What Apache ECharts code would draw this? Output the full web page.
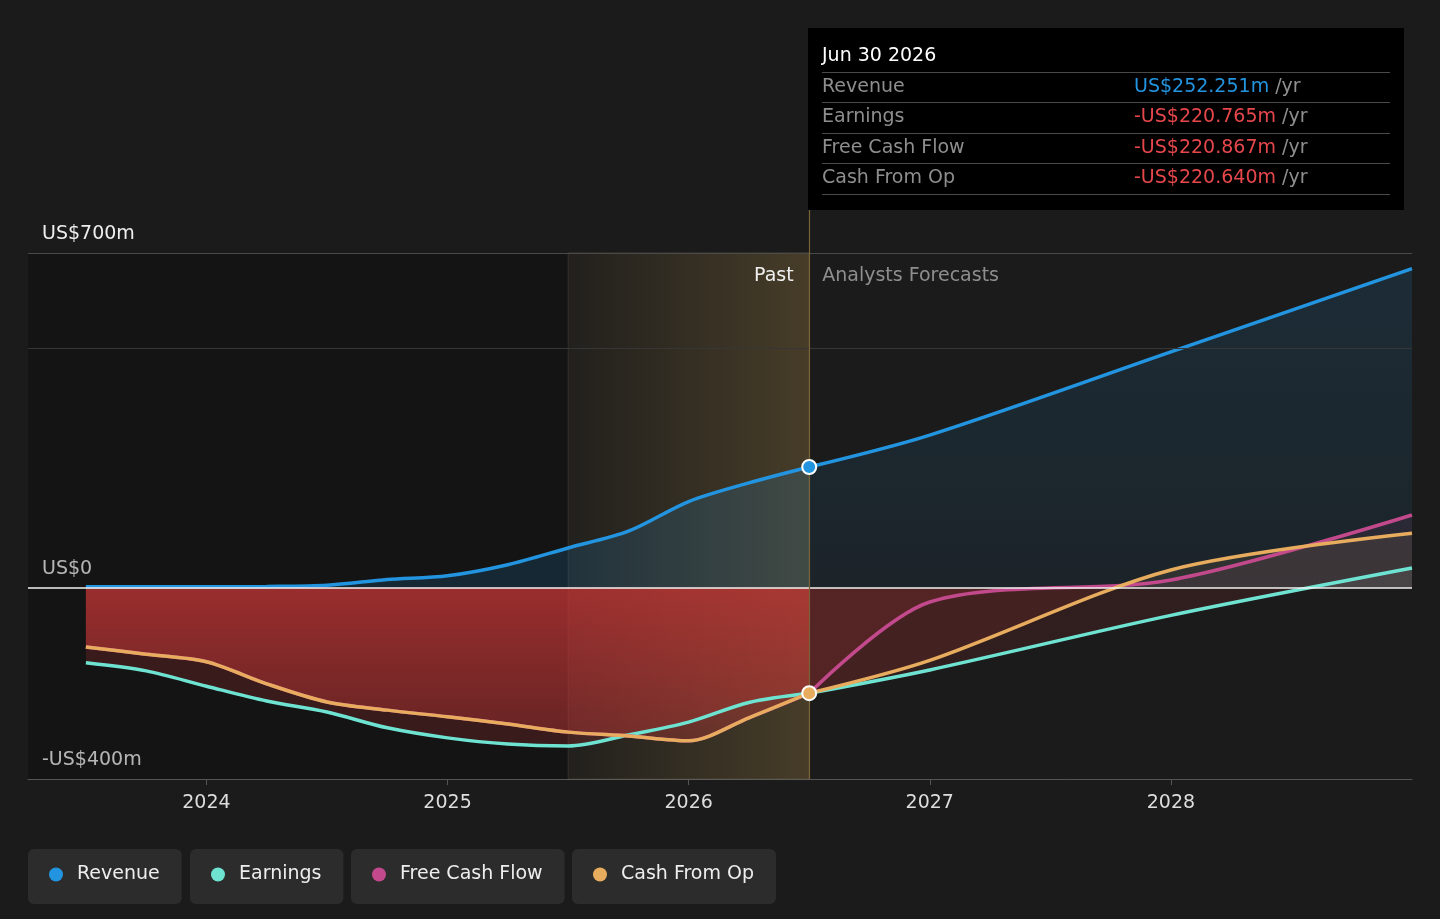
<!DOCTYPE html>
<html>
<head>
<meta charset="utf-8">
<title>Revenue, Earnings and Cash Flow</title>
<script src="https://cdn.jsdelivr.net/npm/echarts@6/dist/echarts.min.js"></script>
<style>
  html, body { margin: 0; padding: 0; background: #1b1b1b; }
  #chart { width: 1440px; height: 919px; }
</style>
</head>
<body>
<div id="chart"></div>
<script>
// values in US$ millions, dates as fractional years
var pastDates = [2023.5, 2023.75, 2024, 2024.25, 2024.5, 2024.75, 2025, 2025.25, 2025.5, 2025.75, 2026, 2026.25, 2026.5];
var forecastDates = [2026.5, 2027, 2028, 2029];

var revenuePast = [2, 2, 2, 2.5, 5, 17, 25, 48, 83, 118, 180, 219, 252.251];
var revenueForecast = [252.251, 319, 493, 667];

var earningsPast = [-157, -174, -206, -237, -260, -293, -314, -327, -331, -308, -281, -240, -220.765];
var earningsForecast = [-220.765, -172, -58, 41];

var fcfPast = [-124, -139, -155, -201, -239, -256, -270, -285, -302, -310, -320, -272, -220.867];
var fcfForecast = [-220.867, -30, 16, 152];

var cfoPast = [-124, -139, -155, -201, -239, -256, -270, -285, -302, -310, -320, -272, -220.64];
var cfoForecast = [-220.64, -152, 37, 114];

var yearTicks = [2024, 2025, 2026, 2027, 2028];
var yTicks = [-400, 0, 700];
var gridValues = [700, 500];

var bandStart = 2025.5;
var bandEnd = 2026.5;
var xMin = 2023.26;
var xMax = 2029;

var tipDate = 'Jun 30 2026';
var tipLabels = ['Revenue', 'Earnings', 'Free Cash Flow', 'Cash From Op'];
var tipValues = ['US$252.251m', '-US$220.765m', '-US$220.867m', '-US$220.640m'];

var COLORS = {
    revenue: '#2394df',
    earnings: '#6fe3d1',
    fcf: '#c2498b',
    cfo: '#e8ac5e'
};
var RED = 'rgba(205,55,55,0.12)';
var FONT = '"DejaVu Sans", Verdana, sans-serif';

var chart = echarts.init(document.getElementById('chart'));

function pairs(dates, vals) {
    return dates.map(function (d, i) { return [d, vals[i]]; });
}

function vGrad(top, bottom) {
    return { type: 'linear', x: 0, y: 0, x2: 0, y2: 1,
        colorStops: [{ offset: 0, color: top }, { offset: 1, color: bottom }] };
}

// fill that switches colour at the zero line (pixel position from the axis)
function splitFill(zeroPx, pos, neg) {
    if (zeroPx == null) return neg;
    var h = chart.getHeight();
    var f = zeroPx / h;
    return { type: 'linear', x: 0, y: 0, x2: 0, y2: h, global: true,
        colorStops: [
            { offset: 0, color: pos }, { offset: f, color: pos },
            { offset: f, color: neg }, { offset: 1, color: neg }
        ] };
}

function line(name, color, dates, vals, fill, z) {
    var s = {
        name: name,
        type: 'line',
        data: pairs(dates, vals),
        smooth: 0.3,
        symbol: 'none',
        silent: true,
        z: z,
        lineStyle: { color: color, width: 3.5 },
        itemStyle: { color: color },
        emphasis: { disabled: true }
    };
    if (fill) s.areaStyle = { color: fill, origin: 'auto', opacity: 1 };
    return s;
}

function buildOption(zeroPx) {
    var series = [
        // background pieces: darker past, grid lines, zero line
        {
            name: 'base', type: 'line', data: [], silent: true, z: 1,
            markArea: {
                silent: true,
                itemStyle: { color: 'rgba(0,0,0,0.24)' },
                data: [[{ xAxis: xMin, yAxis: gridValues[0] }, { xAxis: bandStart, yAxis: yTicks[0] }]]
            },
            markLine: {
                silent: true, symbol: 'none', animation: false,
                label: { show: false },
                data: gridValues.map(function (v, i) {
                    return { yAxis: v, lineStyle: { color: i === 0 ? '#4a4a4a' : '#363636', width: 1, type: 'solid' } };
                }).concat([{ yAxis: 0, lineStyle: { color: '#f2f2f2', width: 1.5, type: 'solid' } }])
            }
        },
        line('Earnings', COLORS.earnings, pastDates, earningsPast, 'rgba(205,55,55,0.2)', 2),
        line('Earnings', COLORS.earnings, forecastDates, earningsForecast,
            splitFill(zeroPx, 'rgba(190,215,205,0.1)', RED), 2),
        line('Free Cash Flow', COLORS.fcf, pastDates, fcfPast,
            vGrad('rgba(205,55,55,0.66)', 'rgba(205,55,55,0.3)'), 2),
        line('Free Cash Flow', COLORS.fcf, forecastDates, fcfForecast,
            splitFill(zeroPx, 'rgba(194,73,139,0.09)', RED), 2),
        line('Cash From Op', COLORS.cfo, pastDates, cfoPast, null, 2),
        line('Cash From Op', COLORS.cfo, forecastDates, cfoForecast,
            splitFill(zeroPx, 'rgba(232,172,94,0.1)', RED), 2),
        line('Revenue', COLORS.revenue, pastDates, revenuePast, 'rgba(35,148,223,0.16)', 2),
        line('Revenue', COLORS.revenue, forecastDates, revenueForecast,
            vGrad('rgba(35,148,223,0.14)', 'rgba(35,148,223,0.07)'), 2),
        // highlighted last-year band, divider and region labels
        {
            name: 'band', type: 'line', data: [], silent: true, z: 3,
            markArea: {
                silent: true,
                data: [
                    [{
                        name: 'Past', xAxis: bandStart, yAxis: gridValues[0],
                        itemStyle: {
                            color: { type: 'linear', x: 0, y: 0, x2: 1, y2: 0,
                                colorStops: [{ offset: 0, color: 'rgba(200,160,80,0.04)' },
                                    { offset: 1, color: 'rgba(200,160,80,0.25)' }] },
                            borderColor: 'rgba(255,230,170,0.1)', borderWidth: 1
                        },
                        label: { show: true, position: 'insideTopRight', distance: 14,
                            color: '#f0f0f0', fontSize: 19, fontFamily: FONT, offset: [-2, 0] }
                    }, { xAxis: bandEnd, yAxis: yTicks[0] }],
                    [{
                        name: 'Analysts Forecasts', xAxis: bandEnd, yAxis: gridValues[0],
                        itemStyle: { color: 'rgba(0,0,0,0)' },
                        label: { show: true, position: 'insideTopLeft', distance: 14,
                            color: '#8e8e8e', fontSize: 19, fontFamily: FONT, offset: [-1, 0] }
                    }, { xAxis: xMax, yAxis: yTicks[0] }]
                ]
            },
            markLine: {
                silent: true, symbol: 'none', animation: false,
                label: { show: false },
                lineStyle: { color: '#7a6238', width: 1.2, type: 'solid' },
                data: [{ xAxis: bandEnd }]
            }
        },
        {
            name: 'points', type: 'line', data: [], silent: true, z: 4,
            markPoint: {
                silent: true, symbol: 'circle', symbolSize: 14,
                label: { show: false },
                itemStyle: { borderColor: '#ffffff', borderWidth: 2 },
                data: [
                    { coord: [bandEnd, revenuePast[revenuePast.length - 1]], itemStyle: { color: COLORS.revenue } },
                    { coord: [bandEnd, cfoPast[cfoPast.length - 1]], itemStyle: { color: COLORS.cfo } }
                ]
            }
        }
    ];

    var legendNames = ['Revenue', 'Earnings', 'Free Cash Flow', 'Cash From Op'];
    var legendLeft = [28, 190, 351, 572];
    var legends = legendNames.map(function (n, i) {
        return {
            data: [n],
            left: legendLeft[i],
            top: 849,
            orient: 'horizontal',
            selectedMode: false,
            icon: 'circle',
            itemWidth: 14,
            itemHeight: 14,
            backgroundColor: '#2c2c2c',
            borderRadius: 6,
            padding: [16, 22, 20, 21],
            textStyle: { color: '#eeeeee', fontSize: 19, fontFamily: FONT, lineHeight: 19, padding: [0, 0, 0, 9] }
        };
    });

    // fixed tooltip box for Jun 30 2026
    var tipColors = [COLORS.revenue, '#e5474b', '#e5474b', '#e5474b'];
    var rowY = [87, 117, 148, 178];
    var sepY = [72, 102, 133, 163, 194];
    var graphics = [
        { type: 'rect', shape: { x: 808, y: 28, width: 596, height: 182 }, style: { fill: '#000000' }, z: 100, silent: true },
        { type: 'text', x: 822, y: 56, z: 101, silent: true,
          style: { text: tipDate, fill: '#ffffff', font: '19px ' + FONT, verticalAlign: 'middle', textVerticalAlign: 'middle' } }
    ];
    sepY.forEach(function (y) {
        graphics.push({ type: 'line', z: 101, silent: true,
            shape: { x1: 822, y1: y + 0.5, x2: 1390, y2: y + 0.5 },
            style: { stroke: '#4a4a4a', lineWidth: 1 } });
    });
    tipLabels.forEach(function (lab, i) {
        graphics.push({ type: 'text', x: 822, y: rowY[i], z: 101, silent: true,
            style: { text: lab, fill: '#8e8e8e', font: '19px ' + FONT, verticalAlign: 'middle', textVerticalAlign: 'middle' } });
        graphics.push({ type: 'text', x: 1134, y: rowY[i], z: 101, silent: true,
            style: {
                text: '{v|' + tipValues[i] + '}{u| /yr}',
                verticalAlign: 'middle', textVerticalAlign: 'middle',
                font: '19px ' + FONT,
                rich: {
                    v: { fill: tipColors[i], color: tipColors[i], fontSize: 19, fontFamily: FONT },
                    u: { fill: '#8e8e8e', color: '#8e8e8e', fontSize: 19, fontFamily: FONT }
                }
            } });
    });

    return {
        backgroundColor: '#1b1b1b',
        animation: false,
        textStyle: { fontFamily: FONT },
        grid: { left: 28, right: 28, top: 205, bottom: 140, containLabel: false },
        legend: legends,
        xAxis: {
            type: 'value',
            min: xMin,
            max: xMax,
            splitLine: { show: false },
            axisLine: { show: true, onZero: false, lineStyle: { color: '#555555', width: 1 } },
            axisTick: { show: true, customValues: yearTicks, length: 6, lineStyle: { color: '#555555' } },
            axisLabel: { customValues: yearTicks, formatter: function (v) { return String(v); },
                color: '#dddddd', fontSize: 19, margin: 15 }
        },
        yAxis: {
            type: 'value',
            min: -400,
            max: 800,
            splitLine: { show: false },
            axisLine: { show: false },
            axisTick: { show: false },
            axisLabel: {
                inside: true,
                margin: 14,
                customValues: yTicks,
                color: '#eeeeee',
                fontSize: 19,
                verticalAlign: 'bottom',
                padding: [0, 0, 9, 0],
                formatter: function (v) {
                    if (v === 0) return 'US$0';
                    return (v < 0 ? '-US$' : 'US$') + Math.abs(v) + 'm';
                }
            }
        },
        graphic: { elements: graphics },
        series: series
    };
}

chart.setOption(buildOption(null));
var zeroPx = chart.convertToPixel({ yAxisIndex: 0 }, 0);
chart.setOption(buildOption(zeroPx), true);
</script>
</body>
</html>
